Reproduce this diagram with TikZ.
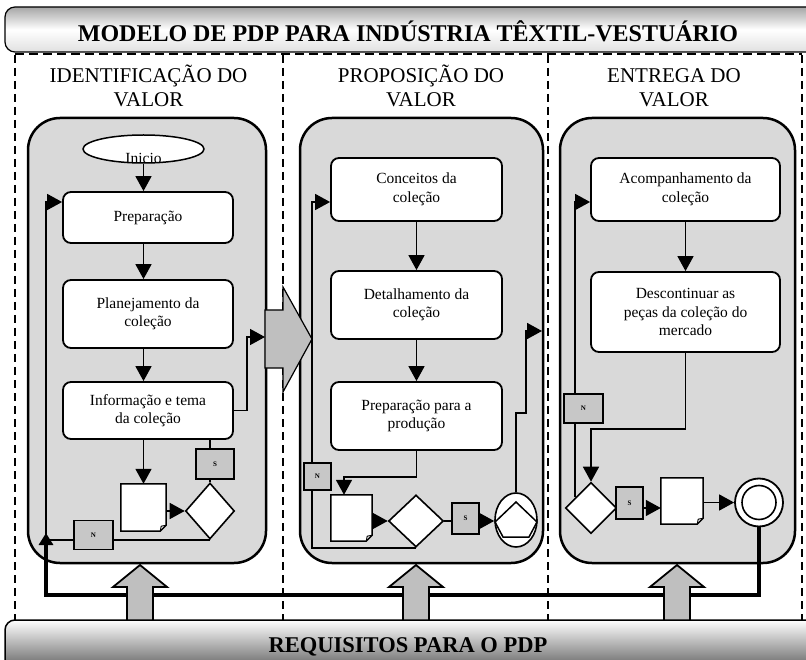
\documentclass[tikz,border=0pt]{standalone}
\usepackage{fontspec}
\setmainfont{Liberation Serif}
\usetikzlibrary{arrows.meta,shapes.geometric,calc}
\definecolor{panelgray}{gray}{0.85}
\definecolor{arrgray}{gray}{0.75}
\definecolor{lblgray}{gray}{0.78}
\tikzset{
 panel/.style={draw, line width=2.5pt, fill=panelgray, rounded corners=32pt},
 proc/.style={draw, line width=1.8pt, fill=white, rounded corners=8pt, inner sep=0pt, align=center, font=\fontsize{15.5}{18.5}\selectfont},
 conn/.style={line width=1.6pt},
 flow/.style={line width=1.6pt, -{Triangle[length=15pt,width=16pt]}},
 lbl/.style={draw, line width=1.6pt, fill=lblgray, inner sep=0pt, font=\fontsize{7}{8}\selectfont\bfseries},
 dec/.style={diamond, draw, line width=1.6pt, fill=white, inner sep=0pt},
 docn/.style={inner sep=0pt},
 docline/.style={draw, line width=1.5pt, fill=white},
 dashln/.style={line width=1.8pt, dash pattern=on 8pt off 5pt},
 uparr/.style={draw, line width=1.8pt, fill=arrgray},
 sectitle/.style={font=\fontsize{21}{24}\selectfont, anchor=base},
}
\newcommand\mydoc[1]{%
 \draw[docline] (#1.north west) -- (#1.north east) -- ([yshift=6pt]#1.south east) -- ([xshift=-6pt]#1.south east) -- (#1.south west) -- cycle;
 \draw[line width=0.9pt] ([yshift=6pt]#1.south east) -- ([xshift=-5pt,yshift=5pt]#1.south east) -- ([xshift=-6pt]#1.south east);}
\begin{document}
\begin{tikzpicture}[x=1pt,y=-1pt]
\useasboundingbox (0,0) rectangle (806,660);
\clip (0,0) rectangle (806,660);
\fill[white] (0,0) rectangle (806,660);
% header
\shadedraw[top color=black!35, bottom color=black!12, middle color=white, line width=1.2pt, rounded corners=10pt] (5,7) rectangle (840,52);
\node[font=\fontsize{24}{28}\selectfont\bfseries, anchor=base] (ttl) at (408,42) {MODELO DE PDP PARA INDÚSTRIA TÊXTIL-VESTUÁRIO};
% dashed separators
\draw[line width=1.5pt, dash pattern=on 9pt off 5pt] (15,54) -- (802,54);
\foreach \dx in {15,283,548,802} \draw[dashln] (\dx,55) -- (\dx,620);
% section titles
\node[sectitle] (t1a) at (148.5,83) {IDENTIFICAÇÃO DO};
\node[sectitle] (t1b) at (148.5,107) {VALOR};
\node[sectitle] (t2a) at (421,83) {PROPOSIÇÃO DO};
\node[sectitle] (t2b) at (421,107) {VALOR};
\node[sectitle] (t3a) at (674,83) {ENTREGA DO};
\node[sectitle] (t3b) at (674,107) {VALOR};
% panels
\draw[panel] (28,118) rectangle (266,563);
\draw[panel] (300,118) rectangle (543,563);
\draw[panel] (560,118) rectangle (795,563);
% big right arrow
\draw[line width=1.2pt, fill=arrgray] (265,310) -- (283,310) -- (283,287) -- (312,339) -- (283,392) -- (283,368) -- (265,368) -- cycle;
% panel 1 nodes
\node[draw, ellipse, line width=1.5pt, fill=white, minimum width=121pt, minimum height=28pt, inner sep=0pt] (inicio) at (143.5,149) {};
\begin{scope}
\clip (143.5,149) ellipse [x radius=59.5pt, y radius=13pt];
\node[font=\fontsize{15.5}{18}\selectfont, anchor=base] (initxt) at (143.5,164) {Inicio};
\end{scope}
\node[proc, minimum width=170pt, minimum height=51pt] (prep1) at (148,217.5) {Preparação};
\node[proc, minimum width=170pt, minimum height=68pt] (plan) at (148,314) {Planejamento da\\coleção};
\node[proc, minimum width=170pt, minimum height=57pt] (info) at (148,410.5) {Informação e tema\\da coleção};
\node[docn, minimum width=45pt, minimum height=47pt] (d1) at (143.5,507.5) {};
\mydoc{d1}
\node[dec, minimum width=49pt, minimum height=56pt] (dia1) at (210,511) {};
% panel 2 nodes
\node[proc, minimum width=171pt, minimum height=63pt] (conc) at (416.5,189.5) {Conceitos da\\coleção};
\node[proc, minimum width=171pt, minimum height=68pt] (det) at (416.5,305) {Detalhamento da\\coleção};
\node[proc, minimum width=171pt, minimum height=68pt] (prod) at (416.5,416) {Preparação para a\\produção};
\node[docn, minimum width=41pt, minimum height=46pt] (d2) at (351.5,518) {};
\mydoc{d2}
\node[dec, minimum width=55pt, minimum height=52pt] (dia2) at (416,521) {};
\node[draw, ellipse, line width=1.6pt, fill=white, minimum width=42pt, minimum height=54pt, inner sep=0pt] (circ) at (516,520) {};
\draw[line width=1.5pt] (516,502) -- (537,522) -- (529,537) -- (503,537) -- (495,522) -- cycle;
% panel 3 nodes
\node[proc, minimum width=189pt, minimum height=63pt] (acomp) at (685.5,189.5) {Acompanhamento da\\coleção};
\node[proc, minimum width=189pt, minimum height=80pt] (desc) at (685.5,312) {Descontinuar as\\peças da coleção do\\mercado};
\node[dec, minimum width=51pt, minimum height=51pt] (dia3) at (591,508) {};
\node[docn, minimum width=42pt, minimum height=46pt] (d3) at (682,501) {};
\mydoc{d3}
\node[draw, circle, line width=1.8pt, fill=white, minimum size=48pt, inner sep=0pt] (endc) at (759,502.5) {};
\node[draw, circle, line width=1.6pt, minimum size=34pt, inner sep=0pt] (endi) at (759,502.5) {};
% coordinates
\coordinate (l1) at (46,202);
\coordinate (c1) at (247,337);
\coordinate (ba) at (265,337);
\coordinate (l2) at (312,202);
\coordinate (c2b) at (344,477);
\coordinate (c2a) at (526,413);
\coordinate (p2out) at (542,331);
\coordinate (l3) at (576,202);
\coordinate (c3) at (591,429);
\coordinate (t1) at (46,595);
\coordinate (t0) at (46,533);
% panel 1 connectors
\draw[flow] (inicio.south) -- (inicio.south |- prep1.north);
\draw[flow] (prep1.south -| inicio) -- (plan.north -| inicio);
\draw[flow] (plan.south -| inicio) -- (info.north -| inicio);
\draw[flow] (info.south -| inicio) -- (d1.north -| inicio);
\draw[flow] (d1.east |- dia1.west) -- (dia1.west);
\draw[conn] (dia1.north) -- (dia1.north |- info.south);
\draw[flow] (dia1.south) -| (l1) -- (prep1.west |- l1);
\draw[flow] (info.east) -| (c1) -- (ba);
% panel 2 connectors
\draw[flow] (conc.south) -- (det.north);
\draw[flow] (det.south) -- (prod.north);
\draw[flow] (prod.south) |- (c2b) -- (c2b |- d2.north);
\draw[flow] (d2.east |- dia2.west) -- (dia2.west);
\draw[flow] (dia2.east) -- (circ.west |- dia2.east);
\draw[flow] (dia2.south) -| (l2) -- (conc.west |- l2);
\draw[flow] (circ.north) |- (c2a) |- (p2out);
% panel 3 connectors
\draw[flow] (acomp.south) -- (desc.north);
\draw[flow] (desc.south) |- (c3) -- (dia3.north);
\draw[flow] (dia3.east) -- (d3.west |- dia3.east);
\draw[flow] (d3.east |- endc.west) -- (endc.west);
\draw[flow] ($(dia3.west)!0.4!(dia3.north)$) |- (acomp.west |- l3);
% labels
\node[lbl, minimum width=38pt, minimum height=30pt] (s1) at (215,464) {S};
\node[lbl, minimum width=39pt, minimum height=29pt] (n1) at (93.5,535) {N};
\node[lbl, minimum width=27pt, minimum height=27pt] (n2) at (317.5,476.5) {N};
\node[lbl, minimum width=27pt, minimum height=31pt] (s2) at (465.5,518.5) {S};
\node[lbl, minimum width=39pt, minimum height=29pt] (n3) at (583.5,408.5) {N};
\node[lbl, minimum width=27pt, minimum height=32pt] (s3) at (629.5,503) {S};
% thick feedback line
\draw[line width=4.5pt, -{Triangle[length=12pt,width=14pt]}] (endc.south) |- (t1) -- (t0);
% up arrows
\foreach \cx in {140,416,677}
  \draw[uparr] (\cx-13,621) -- (\cx-13,587) -- (\cx-27,587) -- (\cx,565) -- (\cx+27,587) -- (\cx+13,587) -- (\cx+13,621);
% bottom box
\shadedraw[top color=white, bottom color=black!65, line width=1.5pt, rounded corners=10pt] (5,620) rectangle (840,672);
\node[font=\fontsize{22.5}{26}\selectfont\bfseries, anchor=base] (req) at (408,652) {REQUISITOS PARA O PDP};
\end{tikzpicture}
\end{document}
